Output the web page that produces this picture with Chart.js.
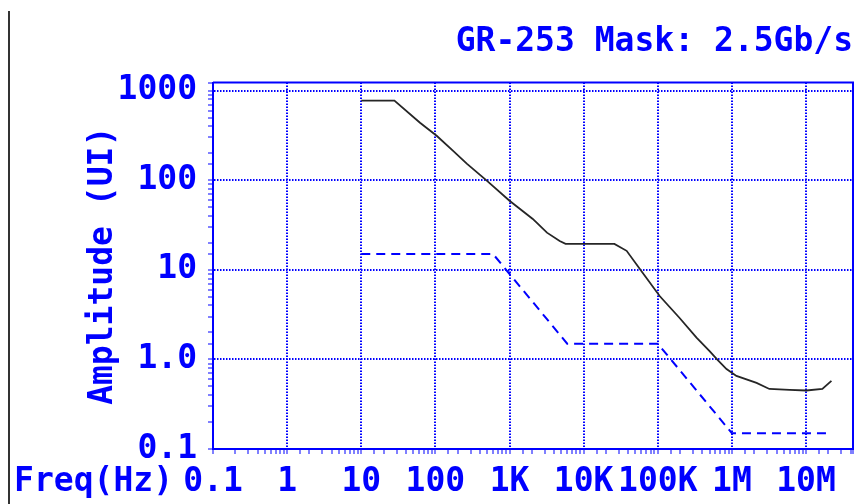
<!DOCTYPE html>
<html>
<head>
<meta charset="UTF-8">
<title>GR-253 Mask</title>
<script src="https://cdn.jsdelivr.net/npm/chart.js@4.4.1/dist/chart.umd.min.js"></script>
<style>
  html, body { margin: 0; padding: 0; background: #fff; }
  #wrap { position: relative; width: 856px; height: 504px; }
  #edge { position: absolute; left: 8px; top: 11px; bottom: 0; width: 2px; background: #333; }
  canvas { display: block; }
</style>
</head>
<body>
<div id="wrap">
  <div id="edge"></div>
  <canvas id="chart" width="856" height="504"></canvas>
</div>
<script>
// measured jitter tolerance (solid black line)
var tolFreq = [10, 28, 62, 104, 172, 265, 493, 1000, 2060, 3200, 4750, 5700,
               26000, 38000, 57000, 106000, 197000, 333000, 500000, 640000, 846000,
               1150000, 2150000, 3200000, 6000000, 10100000, 16600000, 22000000];
var tolUI = [773, 773, 439, 314, 214, 153, 99, 59, 37, 26, 21, 19.5,
             19.5, 16.3, 10.3, 5.1, 2.9, 1.75, 1.24, 0.99, 0.78,
             0.655, 0.546, 0.468, 0.456, 0.45, 0.468, 0.575];

// GR-253 OC-48 mask (dashed blue line)
var maskFreq = [10, 600, 6000, 100000, 1000000, 20000000];
var maskUI = [15, 15, 1.5, 1.5, 0.15, 0.15];

var xTickValues = [0.1, 1, 10, 100, 1e3, 1e4, 1e5, 1e6, 1e7];
var xTickLabels = ['0.1', '1', '10', '100', '1K', '10K', '100K', '1M', '10M'];
var yTickValues = [0.1, 1, 10, 100, 1000];
var yTickLabels = ['0.1', '1.0', '10', '100', '1000'];

var chartTitle = 'GR-253 Mask: 2.5Gb/s';
var xAxisName = 'Freq(Hz)';
var yAxisName = 'Amplitude (UI)';

var BLUE = '#0000ff';
var FONT = { family: 'DejaVu Sans Mono', size: 33, weight: 'bold', lineHeight: 1.2 };

function toPoints(xs, ys) {
  var pts = [];
  for (var i = 0; i < xs.length; i++) pts.push({ x: xs[i], y: ys[i] });
  return pts;
}

function tickLabel(values, labels, v) {
  for (var i = 0; i < values.length; i++) {
    if (Math.abs(v - values[i]) < values[i] * 1e-6) return labels[i];
  }
  return '';
}

function isDecade(v) {
  var e = Math.log10(v);
  return Math.abs(e - Math.round(e)) < 1e-6;
}

function gridColor(c) {
  return c.tick && isDecade(c.tick.value) ? BLUE : 'rgba(0,0,0,0)';
}

// top/right frame lines and the x axis name left of the tick labels
var framePlugin = {
  id: 'frame',
  afterDraw: function (chart) {
    var a = chart.chartArea, ctx = chart.ctx, sx = chart.scales.x;
    ctx.save();
    ctx.strokeStyle = BLUE;
    ctx.lineWidth = 2;
    ctx.beginPath();
    ctx.moveTo(a.left, a.top);
    ctx.lineTo(a.right, a.top);
    ctx.lineTo(a.right, a.bottom);
    ctx.stroke();

    ctx.fillStyle = BLUE;
    ctx.font = 'bold ' + FONT.size + 'px "DejaVu Sans Mono"';
    ctx.textAlign = 'right';
    ctx.textBaseline = 'middle';
    var o = sx.options;
    ctx.fillText(xAxisName, a.left - 40, sx.top + o.grid.tickLength + o.ticks.padding + FONT.size * FONT.lineHeight / 2);
    ctx.restore();
  }
};

var config = {
  type: 'line',
  data: {
    datasets: [{
      label: 'Tolerance',
      data: toPoints(tolFreq, tolUI),
      borderColor: '#262626',
      borderWidth: 1.8,
      pointRadius: 0,
      tension: 0,
      fill: false
    }, {
      label: 'Mask',
      data: toPoints(maskFreq, maskUI),
      borderColor: BLUE,
      borderWidth: 2,
      borderDash: [9, 6],
      pointRadius: 0,
      tension: 0,
      fill: false
    }]
  },
  options: {
    responsive: false,
    animation: false,
    devicePixelRatio: 1,
    layout: { padding: { left: 0, right: 3, top: 0, bottom: 0 } },
    plugins: {
      legend: { display: false },
      tooltip: { enabled: false },
      title: {
        display: true,
        text: chartTitle,
        align: 'end',
        color: BLUE,
        font: FONT,
        padding: { top: 23, bottom: 20 }
      }
    },
    scales: {
      x: {
        type: 'logarithmic',
        position: 'bottom',
        min: 0.1,
        max: 4.3e7,
        afterFit: function (s) { s.height = 55; s.paddingLeft = 0; s.paddingRight = 0; },
        grid: { color: gridColor, lineWidth: 2, tickColor: BLUE, tickLength: 5, tickWidth: 1, tickBorderDash: [] },
        border: { display: true, color: BLUE, width: 2, dash: [1.5, 1.5] },
        ticks: {
          autoSkip: false,
          maxRotation: 0,
          color: BLUE,
          font: FONT,
          padding: 9,
          callback: function (v) { return tickLabel(xTickValues, xTickLabels, v); }
        }
      },
      y: {
        type: 'logarithmic',
        position: 'left',
        min: 0.1,
        max: 1230,
        afterFit: function (s) { s.width = 213; },
        grid: { color: gridColor, lineWidth: 2, tickColor: BLUE, tickLength: 5, tickWidth: 1, tickBorderDash: [] },
        border: { display: true, color: BLUE, width: 2, dash: [1.5, 1.5] },
        title: {
          display: true,
          text: yAxisName,
          color: BLUE,
          font: FONT,
          padding: { top: 84, bottom: 0 }
        },
        ticks: {
          autoSkip: false,
          color: BLUE,
          font: FONT,
          padding: 11,
          callback: function (v) { return tickLabel(yTickValues, yTickLabels, v); }
        }
      }
    }
  },
  plugins: [framePlugin]
};

window.onload = function () {
  var ctx = document.getElementById('chart').getContext('2d');
  window.grafico = new Chart(ctx, config);
};
</script>
</body>
</html>
